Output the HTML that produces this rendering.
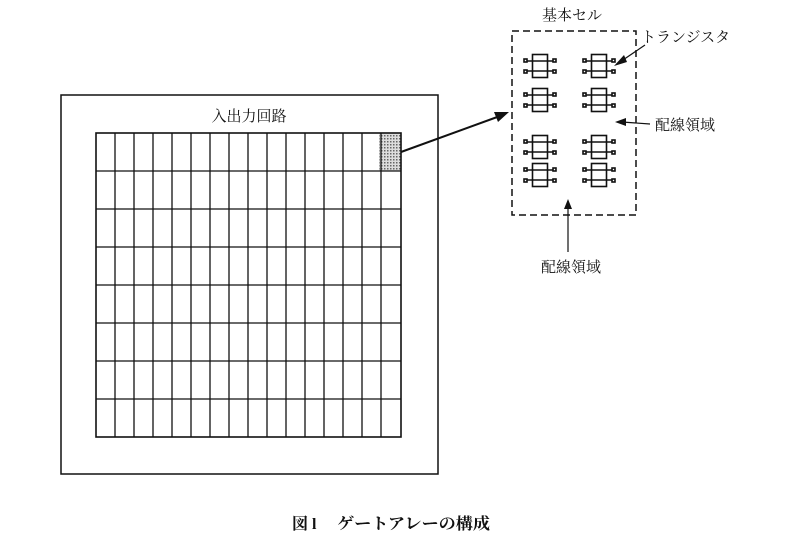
<!DOCTYPE html>
<html><head><meta charset="utf-8"><style>
html,body{margin:0;padding:0;background:#fff;}
svg{display:block;}
text{font-family:"Liberation Serif","Noto Serif CJK SC","Noto Sans CJK JP",serif;fill:#111;}
</style></head><body>
<svg width="798" height="550" viewBox="0 0 798 550" xmlns="http://www.w3.org/2000/svg">
<defs>
<pattern id="dots" width="3" height="3" patternUnits="userSpaceOnUse">
<rect width="3" height="3" fill="#ddd"/><rect width="1.5" height="1.5" fill="#666"/>
</pattern>
<g id="tr" fill="none" stroke="#111" stroke-width="1.6">
<rect x="-7.5" y="-11.5" width="15" height="23"/>
<line x1="-13" y1="-5" x2="13" y2="-5"/>
<line x1="-13" y1="5" x2="13" y2="5"/>
<rect x="-16" y="-7" width="3" height="3"/>
<rect x="13" y="-7" width="3" height="3"/>
<rect x="-16" y="4" width="3" height="3"/>
<rect x="13" y="4" width="3" height="3"/>
</g>
</defs>
<rect x="61" y="95" width="377" height="379" fill="none" stroke="#111" stroke-width="1.5"/>
<text x="249" y="121" font-size="15" text-anchor="middle">入出力回路</text>
<rect x="379" y="133" width="22" height="38" fill="url(#dots)"/>
<g stroke="#111" stroke-width="1.3">
<rect x="96" y="133" width="305" height="304" fill="none" stroke-width="1.6"/>
<line x1="115" y1="133" x2="115" y2="437"/><line x1="134" y1="133" x2="134" y2="437"/>
<line x1="153" y1="133" x2="153" y2="437"/><line x1="172" y1="133" x2="172" y2="437"/>
<line x1="191" y1="133" x2="191" y2="437"/><line x1="210" y1="133" x2="210" y2="437"/>
<line x1="229" y1="133" x2="229" y2="437"/><line x1="248" y1="133" x2="248" y2="437"/>
<line x1="267" y1="133" x2="267" y2="437"/><line x1="286" y1="133" x2="286" y2="437"/>
<line x1="305" y1="133" x2="305" y2="437"/><line x1="324" y1="133" x2="324" y2="437"/>
<line x1="343" y1="133" x2="343" y2="437"/><line x1="362" y1="133" x2="362" y2="437"/>
<line x1="381" y1="133" x2="381" y2="437"/>
<line x1="96" y1="171" x2="401" y2="171"/><line x1="96" y1="209" x2="401" y2="209"/>
<line x1="96" y1="247" x2="401" y2="247"/><line x1="96" y1="285" x2="401" y2="285"/>
<line x1="96" y1="323" x2="401" y2="323"/><line x1="96" y1="361" x2="401" y2="361"/>
<line x1="96" y1="399" x2="401" y2="399"/>
</g>
<line x1="401" y1="152" x2="500" y2="116" stroke="#111" stroke-width="2"/>
<polygon points="509,112 494,112 498,122" fill="#111"/>
<text x="572" y="20" font-size="15" text-anchor="middle">基本セル</text>
<rect x="512" y="31" width="124" height="184" fill="none" stroke="#111" stroke-width="1.5" stroke-dasharray="7,4"/>
<use href="#tr" x="540" y="66"/><use href="#tr" x="599" y="66"/>
<use href="#tr" x="540" y="100"/><use href="#tr" x="599" y="100"/>
<use href="#tr" x="540" y="147"/><use href="#tr" x="599" y="147"/>
<use href="#tr" x="540" y="175"/><use href="#tr" x="599" y="175"/>
<text x="641" y="42" font-size="15">トランジスタ</text>
<line x1="645" y1="45" x2="620" y2="62" stroke="#111" stroke-width="1.2"/>
<polygon points="614,66 624,55 627,62" fill="#111"/>
<text x="655" y="130" font-size="15">配線領域</text>
<line x1="650" y1="124" x2="622" y2="122" stroke="#111" stroke-width="1.2"/>
<polygon points="615,122 626,118 626,126" fill="#111"/>
<line x1="568" y1="252" x2="568" y2="206" stroke="#111" stroke-width="1.2"/>
<polygon points="568,199 564,209 572,209" fill="#111"/>
<text x="571" y="272" font-size="15" text-anchor="middle">配線領域</text>
<text x="292" y="529" font-size="16" font-weight="bold">図 l</text>
<text x="337" y="529" font-size="16" font-weight="bold" textLength="153" lengthAdjust="spacingAndGlyphs">ゲートアレーの構成</text>
</svg>
</body></html>
